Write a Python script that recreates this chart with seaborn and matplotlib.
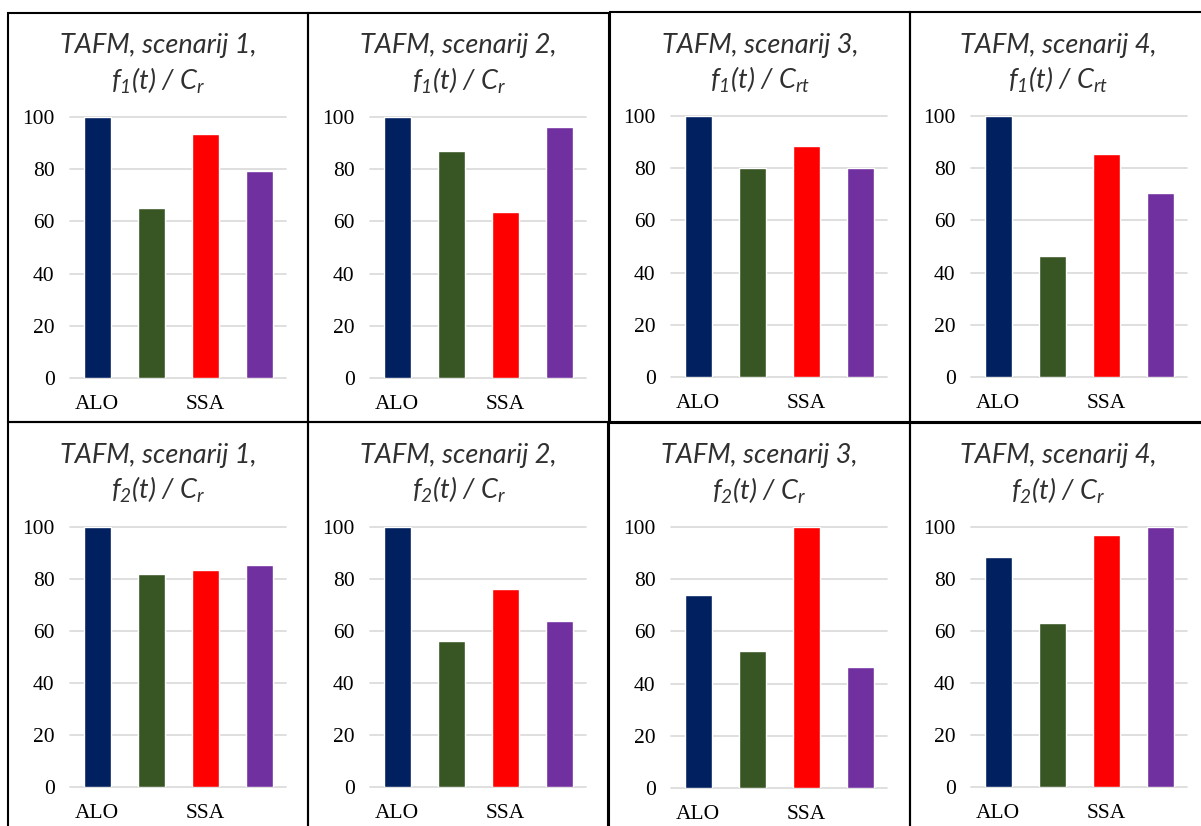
import matplotlib
matplotlib.use("Agg")
import matplotlib.pyplot as plt
import seaborn as sns
import pandas as pd
from matplotlib.patches import Rectangle

# ---- data ----
algorithms = ["ALO", "alg2", "SSA", "alg4"]
tick_labels = ["ALO", "", "SSA", ""]
colors = ["#002060", "#375623", "#FF0000", "#7030A0"]

titles_line1 = ["TAFM, scenarij 1,", "TAFM, scenarij 2,", "TAFM, scenarij 3,", "TAFM, scenarij 4,",
                "TAFM, scenarij 1,", "TAFM, scenarij 2,", "TAFM, scenarij 3,", "TAFM, scenarij 4,"]
titles_line2 = [r"$f_1(t)$ / $C_r$", r"$f_1(t)$ / $C_r$", r"$f_1(t)$ / $C_{rt}$", r"$f_1(t)$ / $C_{rt}$",
                r"$f_2(t)$ / $C_r$", r"$f_2(t)$ / $C_r$", r"$f_2(t)$ / $C_r$", r"$f_2(t)$ / $C_r$"]

s1_f1 = [100, 65, 93.5, 79.5]
s2_f1 = [100, 87, 63.5, 96]
s3_f1 = [100, 80, 88.5, 80]
s4_f1 = [100, 46.5, 85.5, 70.5]
s1_f2 = [100, 82, 83.5, 85.5]
s2_f2 = [100, 56, 76, 64]
s3_f2 = [74, 52.5, 100, 46.5]
s4_f2 = [88.5, 63, 97, 100]
panel_values = [s1_f1, s2_f1, s3_f1, s4_f1, s1_f2, s2_f2, s3_f2, s4_f2]
yticks = [0, 20, 40, 60, 80, 100]

# ---- layout (pixels) ----
W, H = 1201, 826
sns.set_theme(style="white")
TITLE_FONT = "Lato"
plt.rcParams["mathtext.fontset"] = "custom"
plt.rcParams["mathtext.rm"] = TITLE_FONT + ":italic"
plt.rcParams["mathtext.it"] = TITLE_FONT + ":italic"

fig = plt.figure(figsize=(W / 100, H / 100), dpi=100)
fig.patch.set_facecolor("white")

# plot areas: (x_left, x_right, y_at_100, y_at_0)
areas = [(70, 286, 117, 378), (370, 586, 117, 378), (671, 887, 116, 377), (971, 1187, 116, 377),
         (70, 286, 527, 787), (370, 586, 527, 787), (671, 887, 527, 788), (971, 1187, 527, 787)]
# panel boxes: (x0, y0, x1, y1)
boxes = [(8, 13, 308, 422), (308, 13, 609, 422), (610, 12, 910, 422), (910, 12, 1206, 422),
         (8, 422, 308, 830), (308, 422, 609, 830), (608, 423, 910, 830), (910, 423, 1206, 830)]

serif = "Liberation Serif"

for i, vals in enumerate(panel_values):
    xl, xr, yt, yb = areas[i]
    ax = fig.add_axes([xl / W, 1 - yb / H, (xr - xl) / W, (yb - yt) / H])
    df = pd.DataFrame({"alg": algorithms, "val": vals})
    sns.barplot(data=df, x="alg", y="val", hue="alg", palette=colors, legend=False,
                width=0.5, ax=ax, saturation=1)
    ax.set_ylim(0, 100)
    ax.set_xlim(-0.5, 3.5)
    ax.set_yticks(yticks)
    ax.set_yticklabels([str(t) for t in yticks], fontfamily=serif, fontsize=15.5)
    ax.set_xticks(range(4))
    ax.set_xticklabels(tick_labels, fontfamily=serif, fontsize=15.5)
    ax.tick_params(axis="y", length=0, pad=11, colors="black")
    ax.tick_params(axis="x", length=0, pad=12, colors="black")
    ax.set_xlabel("")
    ax.set_ylabel("")
    for sp in ax.spines.values():
        sp.set_visible(False)
    for t in yticks:
        ax.axhline(t, color="#D9D9D9", lw=1.2, zorder=0, clip_on=False)
    ax.set_facecolor("none")

    bx0, by0, bx1, by1 = boxes[i]
    fig.patches.append(Rectangle((bx0 / W, 1 - by1 / H), (bx1 - bx0) / W, (by1 - by0) / H,
                                 transform=fig.transFigure, fill=False, edgecolor="black",
                                 lw=1.5, zorder=5))
    cx = (bx0 + bx1) / 2
    fig.text(cx / W, 1 - (by0 + 33) / H, titles_line1[i], ha="center", va="center",
             fontsize=19.5, style="italic", family=TITLE_FONT, color="#303030")
    fig.text(cx / W, 1 - (by0 + 68) / H, titles_line2[i], ha="center", va="center",
             fontsize=19.5, style="italic", family=TITLE_FONT, color="#303030")

fig.savefig("out.png", dpi=100, facecolor="white")
